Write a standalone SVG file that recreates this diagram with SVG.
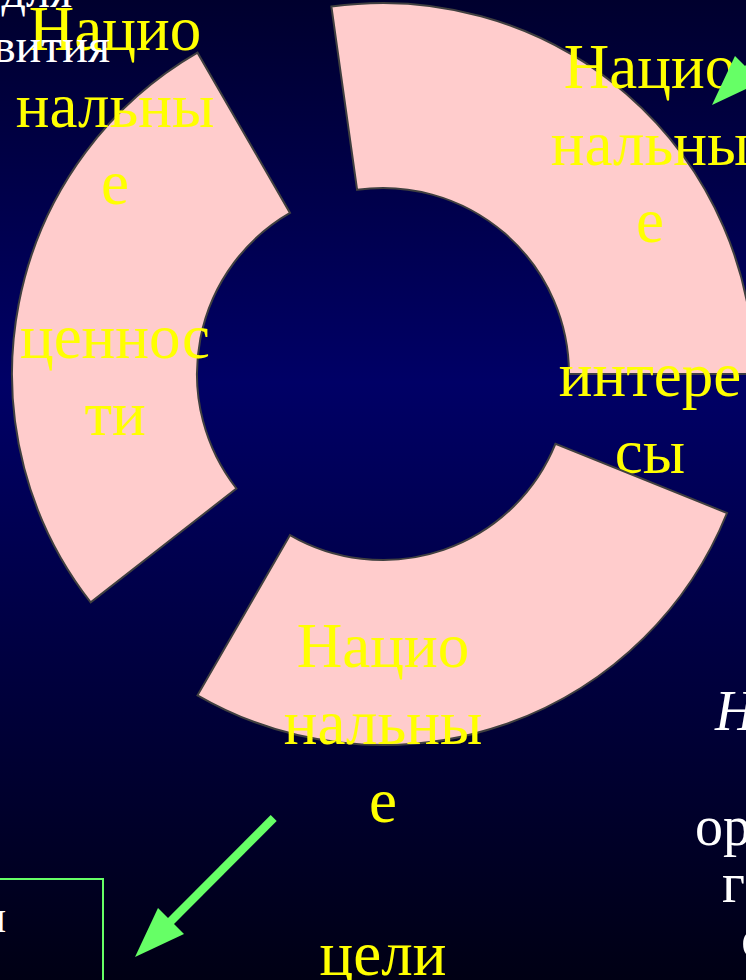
<svg xmlns="http://www.w3.org/2000/svg" width="746" height="980" viewBox="0 0 746 980">
<defs>
<linearGradient id="bg" x1="0" y1="0" x2="0" y2="980" gradientUnits="userSpaceOnUse">
<stop offset="0" stop-color="#00002e"/>
<stop offset="0.39" stop-color="#000066"/>
<stop offset="1" stop-color="#000014"/>
</linearGradient>
<style>
.seg{fill:#ffcccc;stroke:#404040;stroke-width:2}
.y{font-family:"Liberation Serif","Times New Roman",serif;font-size:63px;fill:#ffff00;text-anchor:middle}
.w{font-family:"Liberation Serif","Times New Roman",serif;fill:#ffffff}
.arr{fill:#66ff66}
.shaft{stroke:#66ff66;stroke-width:8.5;fill:none}
</style>
</defs>
<rect x="0" y="0" width="746" height="980" fill="url(#bg)"/>

<g id="values">
<path class="seg" d="M90.7,602.4 A371,371 0 0 1 197.5,52.7 L290,212.9 A186,186 0 0 0 236.4,488.5 Z"/>
<text class="y" x="115" y="50">Нацио</text>
<text class="y" x="115" y="127">нальны</text>
<text class="y" x="115" y="204">е</text>
<text class="y" x="115" y="358">ценнос</text>
<text class="y" x="115" y="435">ти</text>
</g>

<g id="interests">
<path class="seg" d="M331.4,6.6 A371,371 0 0 1 754,374 L569,374 A186,186 0 0 0 357.1,189.8 Z"/>
<text class="y" x="650" y="88">Нацио</text>
<text class="y" x="650" y="165">нальны</text>
<text class="y" x="650" y="242">е</text>
<text class="y" x="650" y="396">интере</text>
<text class="y" x="650" y="473">сы</text>
</g>

<g id="goals">
<path class="seg" d="M727,513 A371,371 0 0 1 197.5,695.3 L290,535.1 A186,186 0 0 0 555.5,443.7 Z"/>
<text class="y" x="383" y="667">Нацио</text>
<text class="y" x="383" y="744">нальны</text>
<text class="y" x="383" y="822">е</text>
<text class="y" x="383" y="975">цели</text>
</g>

<g id="top-left-text">
<text class="w" x="72" y="7" font-size="48" text-anchor="end">для</text>
<text class="w" x="110" y="62" font-size="48" text-anchor="end">вития</text>
</g>

<g id="right-text">
<text class="w" x="715" y="730" font-size="56" font-style="italic">Н</text>
<text class="w" x="695" y="845" font-size="56">ор</text>
<text class="w" x="722" y="902" font-size="56">ге</text>
<text class="w" x="741" y="957" font-size="56">с</text>
</g>

<g id="box">
<rect x="-10" y="879" width="113" height="120" fill="none" stroke="#66ff66" stroke-width="2"/>
<text class="w" x="6" y="932" font-size="46" text-anchor="end">и</text>
</g>

<g id="connectors">
<line class="shaft" x1="273.7" y1="818" x2="168" y2="924"/>
<polygon class="arr" points="135,957 158,908 184,934"/>
<line class="shaft" x1="820" y1="-3" x2="745" y2="72"/>
<polygon class="arr" points="712,105 735,56 761,82"/>
</g>
</svg>
